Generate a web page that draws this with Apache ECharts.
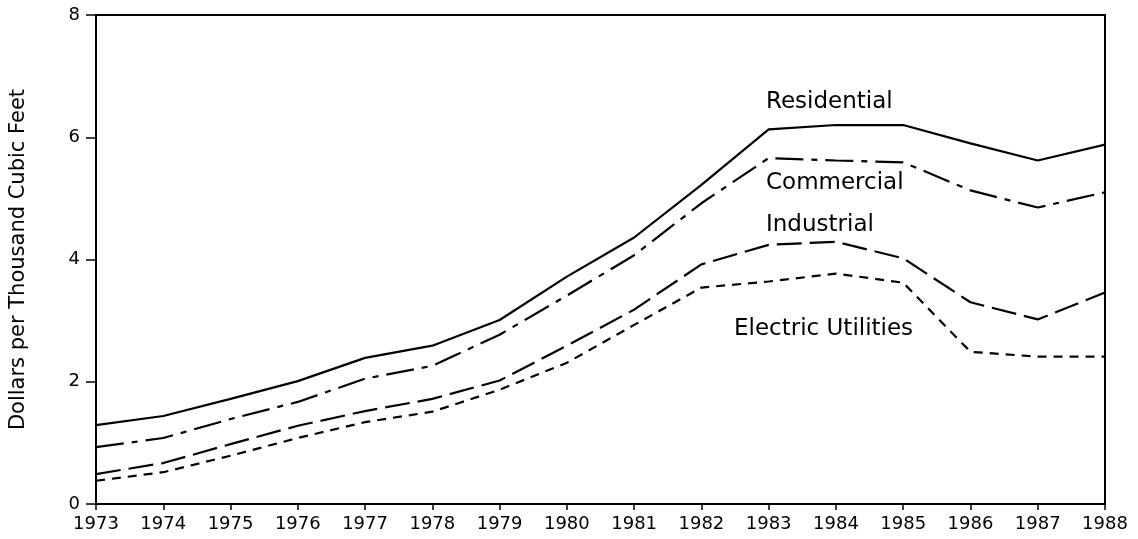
<!DOCTYPE html>
<html>
<head>
<meta charset="utf-8">
<script src="https://cdn.jsdelivr.net/npm/echarts@6/dist/echarts.min.js"></script>
<style>
  html, body { margin: 0; padding: 0; background: #fff; }
  #chart { width: 1138px; height: 539px; }
</style>
</head>
<body>
<div id="chart"></div>
<script>
// Natural gas prices by sector, dollars per thousand cubic feet
const years = ['1973','1974','1975','1976','1977','1978','1979','1980',
               '1981','1982','1983','1984','1985','1986','1987','1988'];
const residential = [1.29,1.44,1.72,2.01,2.39,2.59,3.01,3.72,4.36,5.22,6.13,6.20,6.20,5.90,5.62,5.88];
const commercial  = [0.93,1.08,1.39,1.67,2.05,2.26,2.77,3.41,4.07,4.92,5.66,5.62,5.59,5.13,4.85,5.10];
const industrial  = [0.49,0.67,0.98,1.28,1.52,1.72,2.02,2.59,3.18,3.92,4.24,4.29,4.02,3.30,3.02,3.46];
const electric    = [0.38,0.52,0.79,1.08,1.34,1.51,1.87,2.31,2.93,3.54,3.64,3.77,3.62,2.49,2.41,2.41];
const yTicks = [0, 2, 4, 6, 8];

const FONT = '"DejaVu Sans", sans-serif';
const chart = echarts.init(document.getElementById('chart'));

function lineSeries(name, data, dash) {
  return {
    name: name,
    type: 'line',
    data: data,
    symbol: 'none',
    silent: true,
    lineStyle: { color: '#000', width: 2.2, type: dash }
  };
}

function note(text, left, y) {
  return {
    type: 'text', left: left, top: y - 13,
    style: { text: text, font: '23px ' + FONT, fill: '#000' }
  };
}

chart.setOption({
  animation: false,
  backgroundColor: '#fff',
  grid: {
    left: 95, right: 33, top: 15, bottom: 35,
    show: true, borderColor: '#000', borderWidth: 2, backgroundColor: 'transparent'
  },
  xAxis: {
    type: 'category',
    data: years,
    boundaryGap: false,
    axisLine: { lineStyle: { color: '#000', width: 2 } },
    axisTick: { show: true, length: 6, inside: false, lineStyle: { color: '#000', width: 1.5 } },
    axisLabel: { color: '#000', fontSize: 18, fontFamily: FONT, margin: 11, interval: 0 },
    splitLine: { show: false }
  },
  yAxis: {
    type: 'value',
    min: yTicks[0], max: yTicks[yTicks.length - 1], interval: 2,
    name: 'Dollars per Thousand Cubic Feet',
    nameLocation: 'middle',
    nameGap: 67,
    nameTextStyle: { color: '#000', fontSize: 21, fontFamily: FONT },
    axisLine: { show: true, lineStyle: { color: '#000', width: 2 } },
    axisTick: { show: true, length: 10, lineStyle: { color: '#000', width: 1.5 } },
    axisLabel: { color: '#000', fontSize: 18, fontFamily: FONT, margin: 16 },
    splitLine: { show: false }
  },
  series: [
    lineSeries('Residential', residential, 'solid'),
    lineSeries('Commercial', commercial, [28, 8, 6, 8]),
    lineSeries('Industrial', industrial, [25, 8]),
    lineSeries('Electric Utilities', electric, [9, 7])
  ],
  graphic: [
    note('Residential', 766, 104),
    note('Commercial', 766, 185),
    note('Industrial', 766, 227),
    note('Electric Utilities', 734, 331)
  ]
});
</script>
</body>
</html>
